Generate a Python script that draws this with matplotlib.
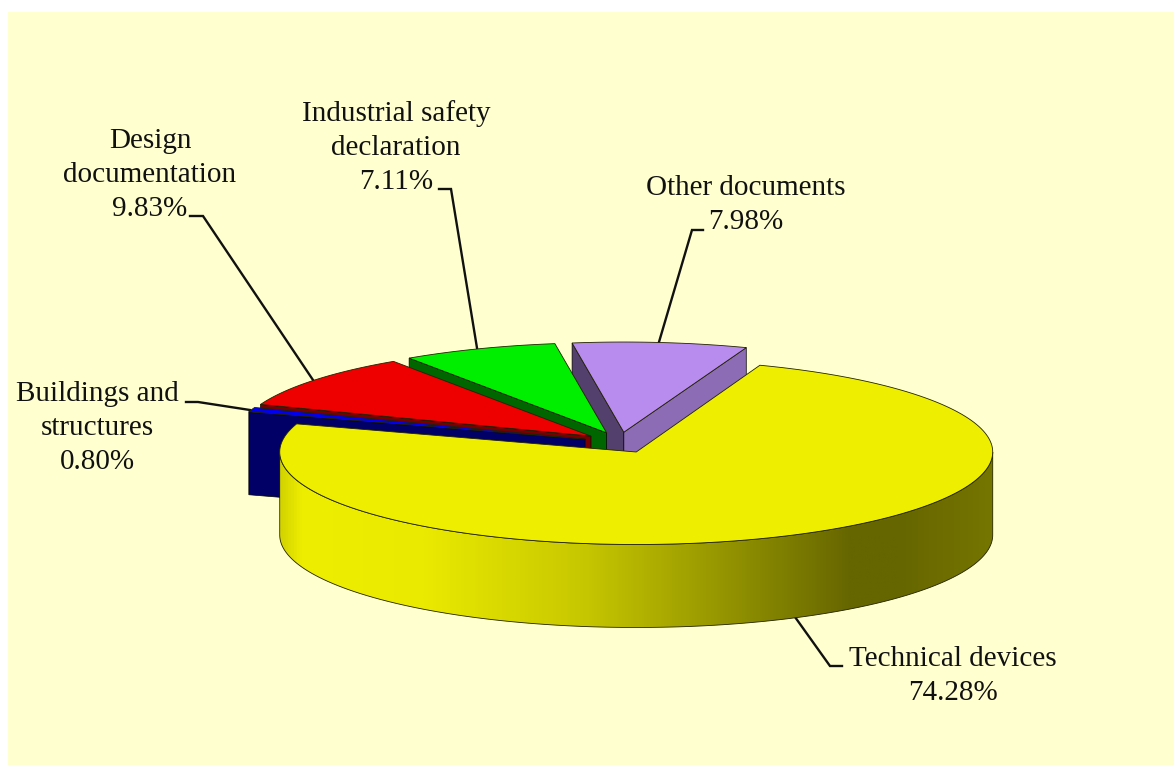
import numpy as np
import matplotlib
matplotlib.use("Agg")
import matplotlib.pyplot as plt
from matplotlib.colors import LinearSegmentedColormap
from matplotlib.patches import Polygon, Rectangle

# data, clockwise from the back right corner of the big slice
labels = [["Technical devices"], ["Buildings and", "structures"], ["Design", "documentation"],
          ["Industrial safety", "declaration"], ["Other documents"]]
shares = [74.28, 0.80, 9.83, 7.11, 7.98]

top_colors = ["#eeee00", "#0000ee", "#ee0000", "#00ee00", "#b88cee"]
left_sides = ["#eeee00", "#000066", "#770000", "#006600", "#54406c"]
right_sides = ["#666600", "#000066", "#770000", "#006600", "#8c6cb4"]

# label text: centre x, baseline y of first line
label_pos = [(953, 666), (97, 401), (150, 148), (396, 121), (746, 195)]
# leader lines, pixel coordinates
leaders = [[(842, 666), (830, 666), (795, 617)],
           [(186, 402), (198, 402), (250, 410)],
           [(190, 216), (203, 216), (313, 380)],
           [(439, 189), (451, 189), (477, 348)],
           [(703, 230), (692, 230), (659, 342)]]

grad_pos = [0, 0.03, 0.2, 0.42, 0.64, 0.8, 0.87, 1]
grad_col = ["#d4d400", "#eeee00", "#eaea00", "#c8c800", "#909000", "#666600", "#666600", "#757500"]

BG = "#ffffd0"
cx, cy = 620, 442.6   # pie centre before explosion
a, b = 356.5, 92.5    # ellipse radii
h = 83                # thickness
explode_x, explode_y = 37, 10.45
start = 69.7


def point(th, ox, oy, rx=1.0, ry=1.0):
    t = np.radians(th)
    return ox + a * rx * np.cos(t), oy - b * ry * np.sin(t)


def arc(t1, t2, ox, oy, rx=1.0, ry=1.0):
    ts = np.linspace(t1, t2, 200)
    return [point(t, ox, oy, rx, ry) for t in ts]


def drop(pts):
    return [(x, y + h) for x, y in pts]


fig = plt.figure(figsize=(11.74, 7.65), dpi=100, facecolor="white")
ax = fig.add_axes([0, 0, 1, 1])
ax.set_xlim(0, 1174)
ax.set_ylim(765, 0)
ax.axis("off")
ax.add_patch(Rectangle((7.5, 12), 1170, 760, fc=BG, ec="none", zorder=0))

# slice angles, counter clockwise low -> high
ends = start - np.cumsum(shares) * 3.6
begins = ends + np.array(shares) * 3.6

z = 2
for i in [4, 3, 2, 1, 0]:
    lo, hi = ends[i], begins[i]
    mid = np.radians((lo + hi) / 2)
    ox = cx + explode_x * np.cos(mid)
    oy = cy - explode_y * np.sin(mid)
    rx, ry = (1.0, 1.0) if i == 0 else (0.99, 0.975)
    apex = (ox, oy)

    # cut faces that turn toward the viewer
    if np.cos(np.radians(hi)) < 0:
        pts = [apex, point(hi, ox, oy, rx, ry)]
        ax.add_patch(Polygon(pts + drop(pts)[::-1], fc=left_sides[i], ec="black", lw=0.5, zorder=z))
    if np.cos(np.radians(lo)) > 0:
        pts = [apex, point(lo, ox, oy, rx, ry)]
        ax.add_patch(Polygon(pts + drop(pts)[::-1], fc=right_sides[i], ec="black", lw=0.5, zorder=z))

    if i == 0:
        # outer wall of the big slice with its gradient
        rim = arc(180, 360, ox, oy)
        wall = Polygon(rim + drop(rim)[::-1], fc="none", ec="#222200", lw=0.6, zorder=z + 1)
        ax.add_patch(wall)
        cmap = LinearSegmentedColormap.from_list("wall", list(zip(grad_pos, grad_col)))
        img = ax.imshow(np.linspace(0, 1, 512).reshape(1, -1), cmap=cmap, aspect="auto",
                        extent=(ox - a, ox + a, oy + b + h, oy), zorder=z)
        img.set_clip_path(wall)

    top = [apex] + arc(lo, hi, ox, oy, rx, ry)
    ax.add_patch(Polygon(top, fc=top_colors[i], ec="#222200", lw=0.6, zorder=z + 2))
    z += 3

ax.set_xlim(0, 1174)
ax.set_ylim(765, 0)

# leaders and labels
for line in leaders:
    xs = [p[0] for p in line]
    ys = [p[1] for p in line]
    ax.plot(xs, ys, color="#111111", lw=1.7, solid_joinstyle="miter", zorder=1)

line_gap = 34
for name, val, (tx, ty) in zip(labels, shares, label_pos):
    rows = name + ["%.2f%%" % val]
    for k, row in enumerate(rows):
        ax.text(tx, ty + k * line_gap, row, ha="center", va="baseline", color="#111111",
                family="Liberation Serif", fontsize=21, zorder=50)

fig.savefig("out.png", dpi=100, facecolor="white")
